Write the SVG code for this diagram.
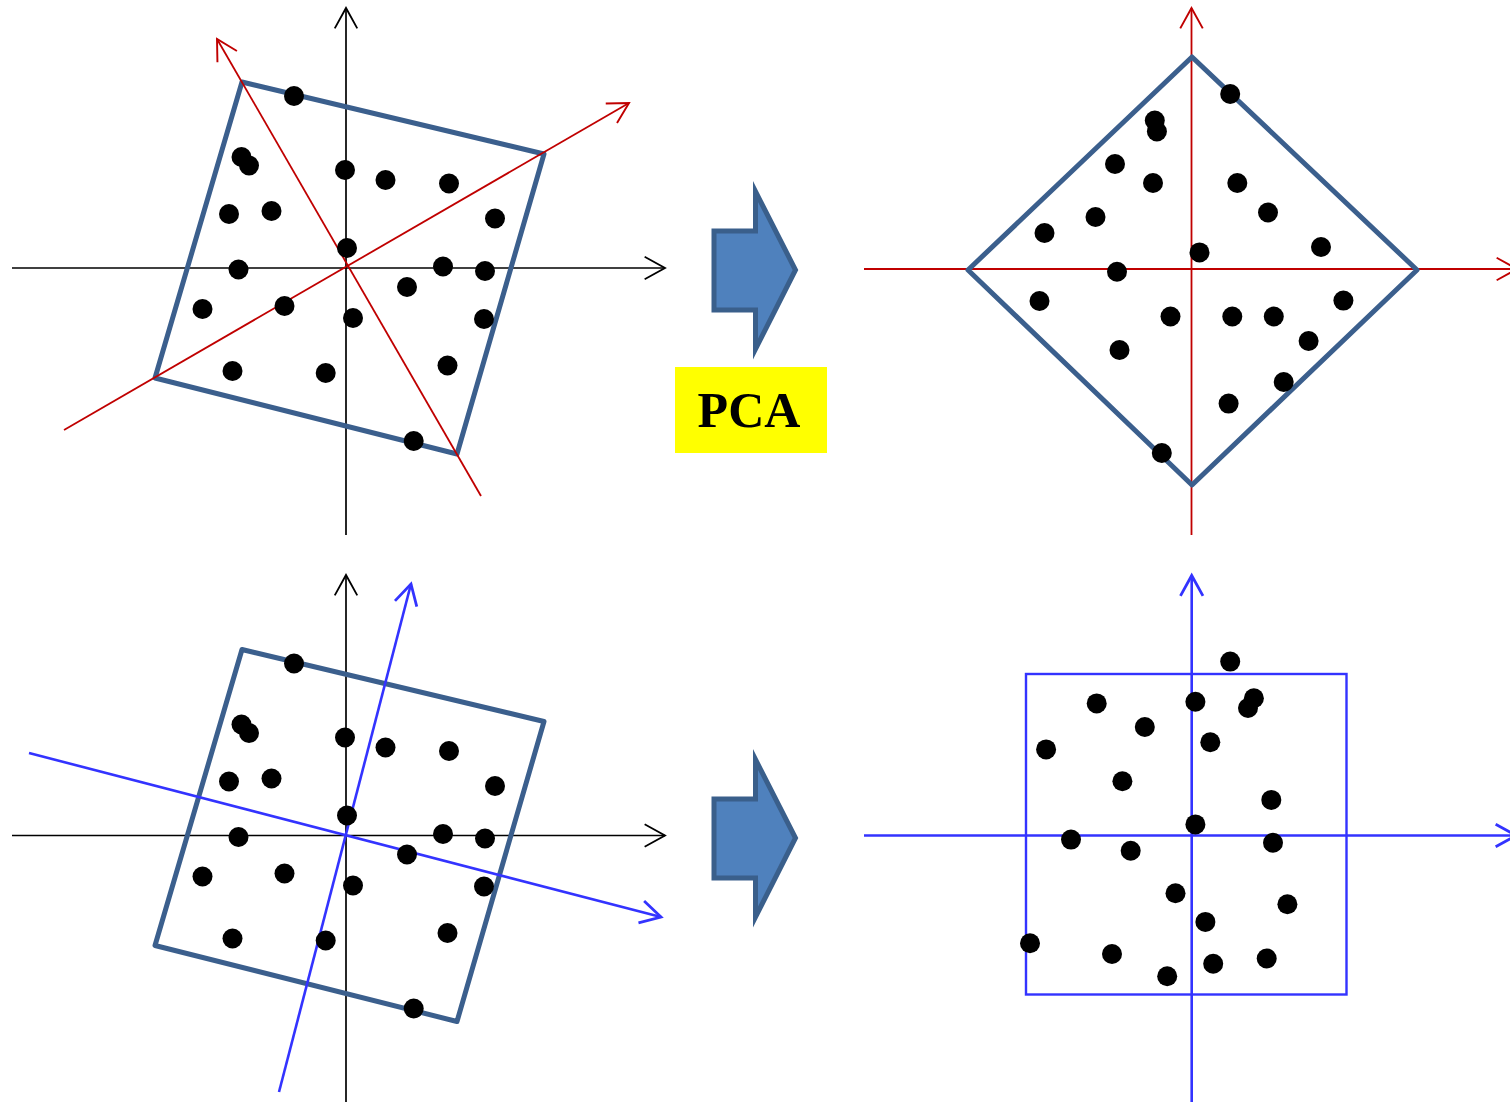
<svg xmlns="http://www.w3.org/2000/svg" width="1510" height="1102" viewBox="0 0 1510 1102">
<style>
.ax{stroke:#000;stroke-width:1.7;fill:none}
.red{stroke:#C00000;stroke-width:1.8;fill:none}
.blu{stroke:#3333FF;stroke-width:2.6;fill:none}
.box{stroke:#3B5F8D;stroke-width:5;fill:none;stroke-linejoin:round}
.dot{fill:#000}
.blk{fill:#4F81BD;stroke:#3A5F8B;stroke-width:5;stroke-linejoin:miter;stroke-miterlimit:12}
.lbl{font-family:"Liberation Serif","Times New Roman",serif;font-weight:bold;font-size:50px;fill:#000}
</style>
<defs>
<marker id="mk" markerUnits="userSpaceOnUse" orient="auto" markerWidth="30" markerHeight="30" refX="0" refY="0" viewBox="-22 -14 26 28" overflow="visible">
<path d="M-19,-10.5 L0,0 L-19,10.5" fill="none" stroke="#000" stroke-width="1.7"/>
</marker>
<marker id="mr" markerUnits="userSpaceOnUse" orient="auto" markerWidth="30" markerHeight="30" refX="0" refY="0" viewBox="-22 -14 26 28" overflow="visible">
<path d="M-19,-10.5 L0,0 L-19,10.5" fill="none" stroke="#C00000" stroke-width="1.8"/>
</marker>
<marker id="mb" markerUnits="userSpaceOnUse" orient="auto" markerWidth="30" markerHeight="30" refX="0" refY="0" viewBox="-22 -14 26 28" overflow="visible">
<path d="M-19,-10.5 L0,0 L-19,10.5" fill="none" stroke="#3333FF" stroke-width="2.6"/>
</marker>
</defs>
<rect width="1510" height="1102" fill="#fff"/>

<g id="panel-original-pca">
<line class="ax" x1="12" y1="268" x2="665" y2="268" marker-end="url(#mk)"/>
<line class="ax" x1="346" y1="535" x2="346" y2="8" marker-end="url(#mk)"/>
<polygon class="box" points="242,82 544,154 457,454 155,378"/>
<line class="red" x1="64" y1="430" x2="629" y2="103" marker-end="url(#mr)"/>
<line class="red" x1="481" y1="496" x2="217" y2="39" marker-end="url(#mr)"/>
<g class="dot">
<circle cx="294" cy="96" r="10"/><circle cx="241.5" cy="157" r="10"/><circle cx="249" cy="165.5" r="10"/>
<circle cx="345" cy="170" r="10"/><circle cx="385.5" cy="180" r="10"/><circle cx="449" cy="183.5" r="10"/>
<circle cx="495" cy="218.5" r="10"/><circle cx="229" cy="214" r="10"/><circle cx="271.5" cy="211" r="10"/>
<circle cx="347" cy="248" r="10"/><circle cx="238.5" cy="269.5" r="10"/><circle cx="443" cy="266.5" r="10"/>
<circle cx="485" cy="271" r="10"/><circle cx="407" cy="287" r="10"/><circle cx="202.5" cy="309" r="10"/>
<circle cx="284.5" cy="306" r="10"/><circle cx="353" cy="318" r="10"/><circle cx="484" cy="319" r="10"/>
<circle cx="447.5" cy="365.5" r="10"/><circle cx="232.5" cy="371" r="10"/><circle cx="325.7" cy="373" r="10"/>
<circle cx="413.7" cy="441" r="10"/>
</g>
</g>

<g id="panel-pca-result">
<line class="red" x1="864" y1="269" x2="1517" y2="269" marker-end="url(#mr)"/>
<line class="red" x1="1191.5" y1="535" x2="1191.5" y2="8" marker-end="url(#mr)"/>
<polygon class="box" points="1192,57 1417,270 1192,485 968,270"/>
<g class="dot">
<circle cx="1230.2" cy="94" r="10"/><circle cx="1154.8" cy="120.5" r="10"/><circle cx="1156.9" cy="131.5" r="10"/>
<circle cx="1115" cy="164" r="10"/><circle cx="1153" cy="183" r="10"/><circle cx="1237.3" cy="183" r="10"/>
<circle cx="1268" cy="212.5" r="10"/><circle cx="1095.5" cy="217" r="10"/><circle cx="1044.5" cy="233" r="10"/>
<circle cx="1321" cy="247" r="10"/><circle cx="1199.5" cy="252.4" r="10"/><circle cx="1117" cy="271.7" r="10"/>
<circle cx="1039.5" cy="301" r="10"/><circle cx="1170.5" cy="316.5" r="10"/><circle cx="1232.3" cy="316.5" r="10"/>
<circle cx="1273.8" cy="316.5" r="10"/><circle cx="1343.4" cy="300.6" r="10"/><circle cx="1308.6" cy="341" r="10"/>
<circle cx="1119.5" cy="350" r="10"/><circle cx="1283.7" cy="382" r="10"/><circle cx="1228.6" cy="403.6" r="10"/>
<circle cx="1161.8" cy="453" r="10"/>
</g>
</g>

<g id="panel-original-ica">
<line class="ax" x1="12" y1="835.5" x2="665" y2="835.5" marker-end="url(#mk)"/>
<line class="ax" x1="346" y1="1102" x2="346" y2="575" marker-end="url(#mk)"/>
<polygon class="box" points="242,649.5 544,721.5 457,1021.5 155,945.5"/>
<line class="blu" x1="29" y1="753" x2="661" y2="917" marker-end="url(#mb)"/>
<line class="blu" x1="279" y1="1092" x2="411" y2="584" marker-end="url(#mb)"/>
<g class="dot" transform="translate(0,567.5)">
<circle cx="294" cy="96" r="10"/><circle cx="241.5" cy="157" r="10"/><circle cx="249" cy="165.5" r="10"/>
<circle cx="345" cy="170" r="10"/><circle cx="385.5" cy="180" r="10"/><circle cx="449" cy="183.5" r="10"/>
<circle cx="495" cy="218.5" r="10"/><circle cx="229" cy="214" r="10"/><circle cx="271.5" cy="211" r="10"/>
<circle cx="347" cy="248" r="10"/><circle cx="238.5" cy="269.5" r="10"/><circle cx="443" cy="266.5" r="10"/>
<circle cx="485" cy="271" r="10"/><circle cx="407" cy="287" r="10"/><circle cx="202.5" cy="309" r="10"/>
<circle cx="284.5" cy="306" r="10"/><circle cx="353" cy="318" r="10"/><circle cx="484" cy="319" r="10"/>
<circle cx="447.5" cy="365.5" r="10"/><circle cx="232.5" cy="371" r="10"/><circle cx="325.7" cy="373" r="10"/>
<circle cx="413.7" cy="441" r="10"/>
</g>
</g>

<g id="panel-ica-result">
<line class="blu" x1="864" y1="835.5" x2="1516" y2="835.5" marker-end="url(#mb)"/>
<line class="blu" x1="1191.7" y1="1102" x2="1191.7" y2="575.5" marker-end="url(#mb)"/>
<rect x="1026" y="674" width="320.5" height="320.5" fill="none" stroke="#3333FF" stroke-width="2.4"/>
<g class="dot">
<circle cx="1230.2" cy="661.6" r="10"/><circle cx="1096.7" cy="703.4" r="10"/><circle cx="1195.4" cy="701.7" r="10"/>
<circle cx="1253.9" cy="698.3" r="10"/><circle cx="1248" cy="708" r="10"/><circle cx="1144.8" cy="727" r="10"/>
<circle cx="1210.3" cy="742.2" r="10"/><circle cx="1046.1" cy="749.4" r="10"/><circle cx="1122.4" cy="781.2" r="10"/>
<circle cx="1271.3" cy="799.9" r="10"/><circle cx="1195.4" cy="824.4" r="10"/><circle cx="1071" cy="839.6" r="10"/>
<circle cx="1130.7" cy="850.7" r="10"/><circle cx="1273" cy="842.7" r="10"/><circle cx="1175.5" cy="893.2" r="10"/>
<circle cx="1287.4" cy="904.3" r="10"/><circle cx="1205.4" cy="921.9" r="10"/><circle cx="1030" cy="943.3" r="10"/>
<circle cx="1112" cy="954" r="10"/><circle cx="1167.2" cy="976.2" r="10"/><circle cx="1213.2" cy="963.7" r="10"/>
<circle cx="1266.7" cy="958.5" r="10"/>
</g>
</g>

<g id="connectors">
<polygon class="blk" points="714,231 755.5,231 755.5,191.5 795.5,270 755.5,349 755.5,310 714,310"/>
<polygon class="blk" points="714,799 755.5,799 755.5,759.5 795.5,838 755.5,917 755.5,878 714,878"/>
</g>

<g id="label-pca">
<rect x="675" y="367" width="152" height="86" fill="#FFFF00"/>
<text class="lbl" x="749" y="427" text-anchor="middle">PCA</text>
</g>
</svg>
